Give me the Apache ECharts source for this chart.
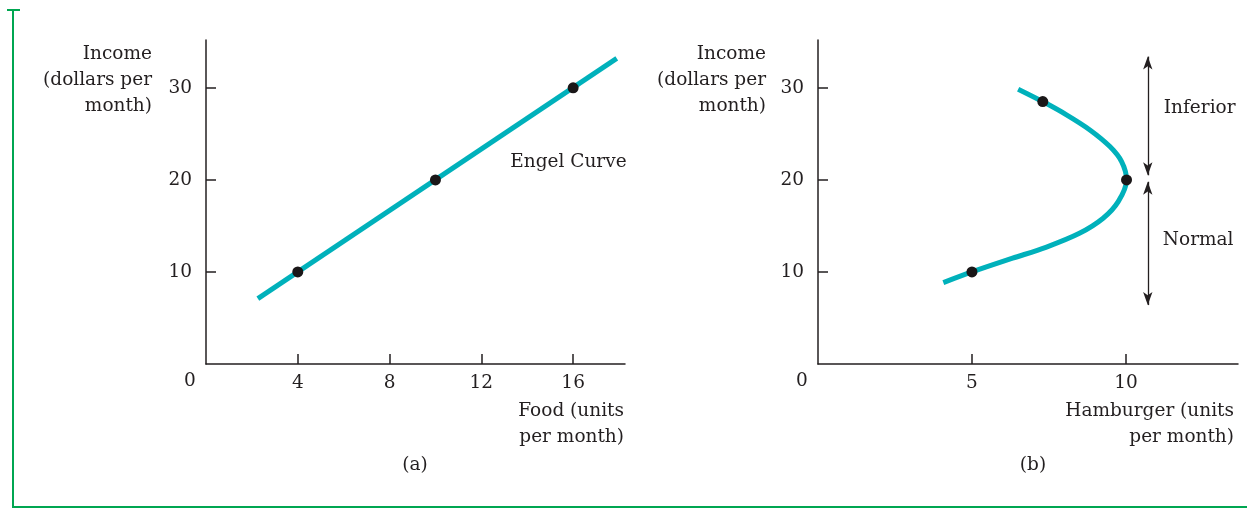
<!DOCTYPE html>
<html lang="en">
<head>
    <meta charset="UTF-8">
    <title>Engel curves</title>
    <script src="https://cdn.jsdelivr.net/npm/echarts@6/dist/echarts.min.js"></script>
    <style type="text/css">
        html, body { margin: 0; padding: 0; background: #fff; }
        #main { width: 1247px; height: 509px; }
    </style>
</head>
<body>
<div id="main"></div>
<script>
    // (a) food - straight engel curve
    var foodLine = [[2.26, 7.1], [17.9, 33.2]];
    var foodDots = [[4, 10], [10, 20], [16, 30]];
    var foodTicks = [4, 8, 12, 16];

    // (b) hamburger - bends back above 20
    var burgerCurve = [[4.07, 8.84], [5, 10], [6.32, 11.49], [7.4, 12.68], [8.49, 14.2], [9.26, 15.84],
        [9.75, 17.64], [10.02, 20], [9.86, 21.99], [9.48, 23.62], [8.83, 25.43], [8.07, 27.07],
        [7.3, 28.51], [6.5, 29.86]];
    var burgerDots = [[5, 10], [10.02, 20], [7.3, 28.51]];
    var burgerTicks = [5, 10];

    var incomeTicks = [10, 20, 30];
    var inferiorArrow = [[10.71, 33.4], [10.71, 20.5]];
    var normalArrow = [[10.71, 19.8], [10.71, 6.4]];

    var ink = '#231f20';
    var teal = '#00b1bb';
    var font = 'DejaVu Serif';
    var fs = 18.5;

    var myChart = echarts.init(document.getElementById('main'));

    function xAx(idx, max, ticks) {
        return {
            type: 'value', gridIndex: idx, min: 0, max: max,
            splitLine: {show: false},
            axisLine: {lineStyle: {color: ink, width: 1.5}},
            axisTick: {inside: true, length: 10, customValues: ticks, lineStyle: {color: ink, width: 1.5}},
            axisLabel: {customValues: ticks, margin: 10, color: ink, fontFamily: font, fontSize: fs}
        };
    }
    function yAx(idx) {
        return {
            type: 'value', gridIndex: idx, min: 0, max: 35.2,
            splitLine: {show: false},
            axisLine: {lineStyle: {color: ink, width: 1.5}},
            axisTick: {inside: true, length: 10, customValues: incomeTicks, lineStyle: {color: ink, width: 1.5}},
            axisLabel: {customValues: incomeTicks, margin: 14, color: ink, fontFamily: font, fontSize: fs}
        };
    }

    var option = {
        animation: false,
        backgroundColor: '#fff',
        grid: [
            {left: 206, top: 40, width: 419, height: 324, outerBoundsMode: 'none', containLabel: false},
            {left: 818, top: 40, width: 420, height: 324, outerBoundsMode: 'none', containLabel: false}
        ],
        xAxis: [xAx(0, 18.26, foodTicks), xAx(1, 13.64, burgerTicks)],
        yAxis: [yAx(0), yAx(1)],
        series: [
            {type: 'line', xAxisIndex: 0, yAxisIndex: 0, data: foodLine, showSymbol: false,
                lineStyle: {color: teal, width: 5}},
            {type: 'scatter', xAxisIndex: 0, yAxisIndex: 0, data: foodDots, symbolSize: 11,
                itemStyle: {color: '#1a1718', opacity: 1}, z: 5},
            {type: 'line', xAxisIndex: 1, yAxisIndex: 1, data: burgerCurve, showSymbol: false,
                smooth: 0.3, lineStyle: {color: teal, width: 5}},
            {type: 'scatter', xAxisIndex: 1, yAxisIndex: 1, data: burgerDots, symbolSize: 11,
                itemStyle: {color: '#1a1718', opacity: 1}, z: 5,
                markLine: {
                    silent: true, symbol: ['arrow', 'arrow'], symbolSize: [7, 13],
                    label: {show: false},
                    lineStyle: {color: ink, width: 1.3, type: 'solid', opacity: 1},
                    data: [
                        [{coord: inferiorArrow[0]}, {coord: inferiorArrow[1]}],
                        [{coord: normalArrow[0]}, {coord: normalArrow[1]}]
                    ]
                }}
        ]
    };
    myChart.setOption(option);

    //文字标注，位置按坐标轴换算
    function px(gi, pt) {
        return myChart.convertToPixel({gridIndex: gi}, pt);
    }
    function txt(p, s, align, vAlign) {
        return {type: 'text', x: p[0], y: p[1],
            style: {text: s, fill: ink, font: fs + 'px "' + font + '"', lineHeight: 26,
                align: align || 'left', verticalAlign: vAlign || 'middle'}};
    }
    var o0 = px(0, [0, 0]), o1 = px(1, [0, 0]);
    var top0 = px(0, [0, 35.2]), top1 = px(1, [0, 35.2]);
    var end0 = px(0, [18.26, 0]), end1 = px(1, [13.64, 0]);
    myChart.setOption({
        graphic: [
            txt([o0[0] - 16, o0[1] + 17], '0', 'center'),
            txt([o1[0] - 16, o1[1] + 17], '0', 'center'),
            // 坐标轴名称
            txt([top0[0] - 54, top0[1] + 1], 'Income\n(dollars per\nmonth)', 'right', 'top'),
            txt([top1[0] - 52, top1[1] + 1], 'Income\n(dollars per\nmonth)', 'right', 'top'),
            txt([end0[0] - 1, end0[1] + 34], 'Food (units\nper month)', 'right', 'top'),
            txt([end1[0] - 4, end1[1] + 34], 'Hamburger (units\nper month)', 'right', 'top'),
            txt(px(0, [13.26, 21.96]), 'Engel Curve'),
            txt(px(1, [11.23, 27.8]), 'Inferior'),
            txt(px(1, [11.2, 13.5]), 'Normal'),
            txt([415, 465], '(a)', 'center'),
            txt([1033, 465], '(b)', 'center'),
            // 绿色边框
            {type: 'line', shape: {x1: 13, y1: 10, x2: 13, y2: 507}, style: {stroke: '#00a651', lineWidth: 2}},
            {type: 'line', shape: {x1: 7, y1: 10, x2: 20, y2: 10}, style: {stroke: '#00a651', lineWidth: 2}},
            {type: 'line', shape: {x1: 12, y1: 507, x2: 1247, y2: 507}, style: {stroke: '#00a651', lineWidth: 2}}
        ]
    });
</script>
</body>
</html>
